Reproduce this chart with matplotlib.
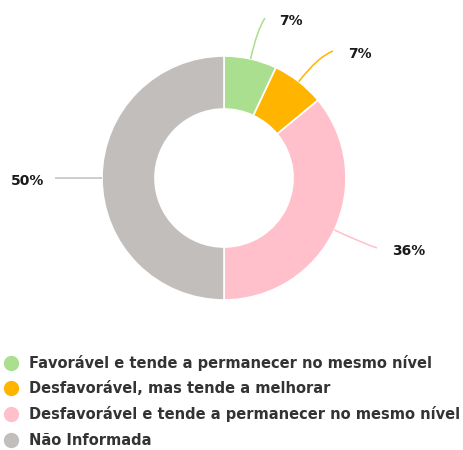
import numpy as np
import matplotlib.pyplot as plt
from matplotlib.lines import Line2D
from matplotlib.path import Path
from matplotlib.patches import PathPatch

# data
categories = [
    'Favorável e tende a permanecer no mesmo nível',
    'Desfavorável, mas tende a melhorar',
    'Desfavorável e tende a permanecer no mesmo nível',
    'Não Informada',
]
values = [7, 7, 36, 50]
pct_labels = ['7%', '7%', '36%', '50%']
colors = ['#a9df8f', '#ffb400', '#ffc0cb', '#c2bebb']

# layout (pixel coords, y from top)
W, H = 464, 450
CX, CY = 224, 178
R_OUT = 122
R_IN = 69
# end of each leader line, and where the text sits
LEADER_END = [(265, 18), (333, 51), (377, 248), (55, 178)]
TEXT_POS = [(279, 21), (348, 54), (392, 251), (44, 181)]
TEXT_HA = ['left', 'left', 'left', 'right']
BEND = 0.7   # how far the leader follows the radial direction before turning

fig = plt.figure(figsize=(W / 100, H / 100), dpi=100)
ax = fig.add_axes([0, 0, 1, 1])

wedges, _ = ax.pie(values, colors=colors, startangle=90, counterclock=False,
                   center=(CX, H - CY), radius=R_OUT, frame=True,
                   wedgeprops=dict(width=R_OUT - R_IN, edgecolor='white',
                                   linewidth=1.2))
ax.set_xlim(0, W)
ax.set_ylim(0, H)
ax.set_aspect('equal')
ax.axis('off')

# labels with curved leader lines
for i, w in enumerate(wedges):
    ang = np.deg2rad((w.theta1 + w.theta2) / 2)
    dx, dy = np.cos(ang), np.sin(ang)
    sx = CX + R_OUT * dx
    sy = (H - CY) + R_OUT * dy
    ex, ey = LEADER_END[i]
    ey = H - ey
    L = BEND * np.hypot(ex - sx, ey - sy)
    verts = [(sx, sy), (sx + L * dx, sy + L * dy), (ex, ey)]
    codes = [Path.MOVETO, Path.CURVE3, Path.CURVE3]
    ax.add_patch(PathPatch(Path(verts, codes), fill=False,
                           edgecolor=colors[i], lw=1.1))
    tx, ty = TEXT_POS[i]
    ax.text(tx, H - ty, pct_labels[i], ha=TEXT_HA[i], va='center',
            fontsize=10, fontweight='bold', color='#1a1a1a')

# legend
handles = [Line2D([0], [0], marker='o', linestyle='None', markersize=10,
                  markerfacecolor=c, markeredgecolor=c) for c in colors]
leg = ax.legend(handles, categories, loc='upper left',
                bbox_to_anchor=(0.008, 1 - 355 / H), frameon=False,
                prop=dict(size=10.5, weight='bold'),
                handlelength=1.0, handletextpad=0.73, labelspacing=0.7,
                borderaxespad=0, borderpad=0)
for t in leg.get_texts():
    t.set_color('#333333')

fig.savefig('out.png', dpi=100)
